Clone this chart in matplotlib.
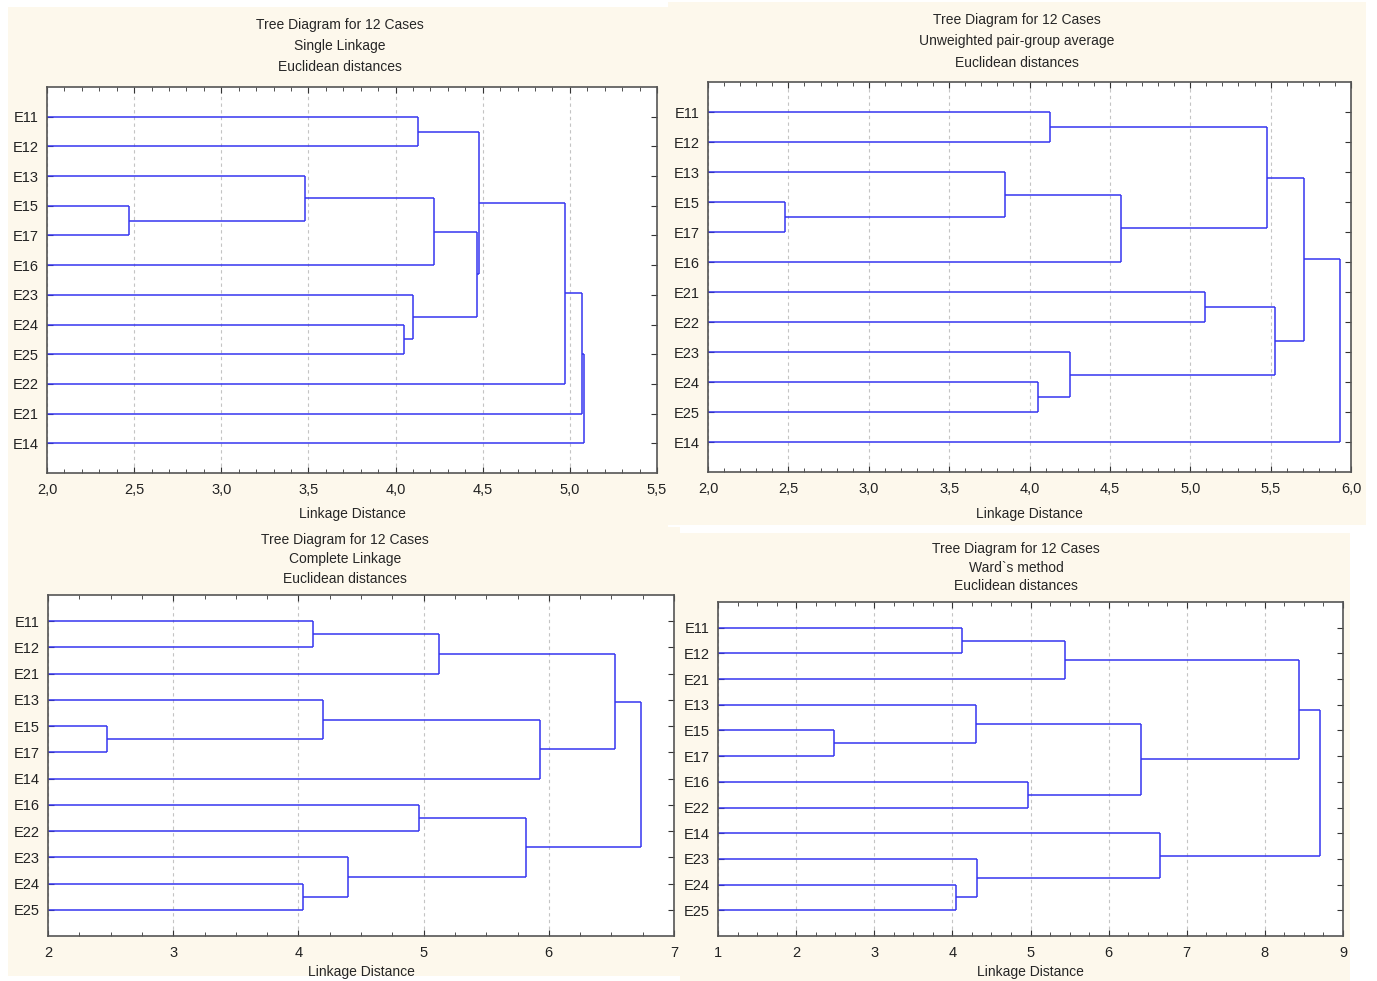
import matplotlib
matplotlib.use('Agg')
import matplotlib.pyplot as plt
import matplotlib.patches as mpatches
from matplotlib.ticker import MultipleLocator, FuncFormatter

plt.rcParams['font.family'] = ['Liberation Sans', 'DejaVu Sans']

W, H = 1377, 981

# leaf order (top to bottom) and joins (child, child, linkage distance)
# 'mK' is the cluster made by join number K
single_leaves = ['E11', 'E12', 'E13', 'E15', 'E17', 'E16', 'E23', 'E24', 'E25', 'E22', 'E21', 'E14']
single_joins = [
    ('E15', 'E17', 2.47),
    ('E13', 'm0', 3.48),
    ('m1', 'E16', 4.22),
    ('E24', 'E25', 4.05),
    ('E23', 'm3', 4.10),
    ('m2', 'm4', 4.466),
    ('E11', 'E12', 4.13),
    ('m6', 'm5', 4.478),
    ('m7', 'E22', 4.97),
    ('m8', 'E21', 5.07),
    ('m9', 'E14', 5.08),
]

upgma_leaves = ['E11', 'E12', 'E13', 'E15', 'E17', 'E16', 'E21', 'E22', 'E23', 'E24', 'E25', 'E14']
upgma_joins = [
    ('E15', 'E17', 2.48),
    ('E13', 'm0', 3.85),
    ('m1', 'E16', 4.57),
    ('E11', 'E12', 4.13),
    ('m3', 'm2', 5.48),
    ('E21', 'E22', 5.09),
    ('E24', 'E25', 4.05),
    ('E23', 'm6', 4.25),
    ('m5', 'm7', 5.53),
    ('m4', 'm8', 5.71),
    ('m9', 'E14', 5.93),
]

complete_leaves = ['E11', 'E12', 'E21', 'E13', 'E15', 'E17', 'E14', 'E16', 'E22', 'E23', 'E24', 'E25']
complete_joins = [
    ('E11', 'E12', 4.12),
    ('m0', 'E21', 5.12),
    ('E15', 'E17', 2.47),
    ('E13', 'm2', 4.20),
    ('m3', 'E14', 5.93),
    ('m1', 'm4', 6.53),
    ('E16', 'E22', 4.96),
    ('E24', 'E25', 4.04),
    ('E23', 'm7', 4.40),
    ('m6', 'm8', 5.82),
    ('m5', 'm9', 6.74),
]

ward_leaves = ['E11', 'E12', 'E21', 'E13', 'E15', 'E17', 'E16', 'E22', 'E14', 'E23', 'E24', 'E25']
ward_joins = [
    ('E11', 'E12', 4.12),
    ('m0', 'E21', 5.44),
    ('E15', 'E17', 2.48),
    ('E13', 'm2', 4.30),
    ('E16', 'E22', 4.97),
    ('m3', 'm4', 6.42),
    ('m1', 'm5', 8.44),
    ('E24', 'E25', 4.05),
    ('E23', 'm7', 4.32),
    ('E14', 'm8', 6.66),
    ('m6', 'm9', 8.71),
]

panels = [
    dict(leaves=single_leaves, joins=single_joins, method='Single Linkage',
         box=(47, 87, 657, 473), xlim=(2.0, 5.5), major=0.5, minor=0.1, dec=True,
         title_xy=(340, 25), title_dy=21, xlab_y=514),
    dict(leaves=upgma_leaves, joins=upgma_joins, method='Unweighted pair-group average',
         box=(708, 82, 1351, 472), xlim=(2.0, 6.0), major=0.5, minor=0.1, dec=True,
         title_xy=(1017, 20), title_dy=21.5, xlab_y=514),
    dict(leaves=complete_leaves, joins=complete_joins, method='Complete Linkage',
         box=(48, 595, 674, 936), xlim=(2, 7), major=1, minor=0.25, dec=False,
         title_xy=(345, 540), title_dy=19.5, xlab_y=972),
    dict(leaves=ward_leaves, joins=ward_joins, method='Ward`s method',
         box=(718, 602, 1343, 936), xlim=(1, 9), major=1, minor=0.25, dec=False,
         title_xy=(1016, 549), title_dy=18.5, xlab_y=972),
]

cream = '#fdf8ec'
line_col = '#3535f0'


def fx(x):
    return x / W


def fy(y):
    return 1 - y / H


fig = plt.figure(figsize=(W / 100, H / 100), dpi=100)
fig.patch.set_facecolor('white')

# cream panel backgrounds (pixel boxes: x0, y0, x1, y1)
for x0, y0, x1, y1 in [(8, 7, 668, 527), (668, 2, 1366, 525), (8, 527, 680, 976), (680, 533, 1350, 981)]:
    fig.patches.append(mpatches.Rectangle((fx(x0), fy(y1)), fx(x1 - x0), (y1 - y0) / H,
                                          transform=fig.transFigure, facecolor=cream,
                                          edgecolor='none', zorder=-10))


def draw_tree(ax, leaves, joins, x0):
    ypos = {name: i + 1 for i, name in enumerate(leaves)}
    xpos = {name: x0 for name in leaves}
    for k, (a, b, d) in enumerate(joins):
        ya, yb = ypos[a], ypos[b]
        ax.plot([xpos[a], d], [ya, ya], color=line_col, lw=1.1, solid_capstyle='butt')
        ax.plot([xpos[b], d], [yb, yb], color=line_col, lw=1.1, solid_capstyle='butt')
        ax.plot([d, d], [ya, yb], color=line_col, lw=1.1, solid_capstyle='butt')
        ypos['m%d' % k] = (ya + yb) / 2
        xpos['m%d' % k] = d


for p in panels:
    l, t, r, b = p['box']
    ax = fig.add_axes([fx(l), fy(b), (r - l) / W, (b - t) / H])
    ax.set_facecolor('white')
    draw_tree(ax, p['leaves'], p['joins'], p['xlim'][0])
    n = len(p['leaves'])
    ax.set_xlim(*p['xlim'])
    ax.set_ylim(n + 1, 0)
    ax.set_yticks(range(1, n + 1))
    ax.set_yticklabels(p['leaves'])
    ax.xaxis.set_major_locator(MultipleLocator(p['major']))
    ax.xaxis.set_minor_locator(MultipleLocator(p['minor']))
    if p['dec']:
        ax.xaxis.set_major_formatter(FuncFormatter(lambda v, pos: ('%.1f' % v).replace('.', ',')))
    else:
        ax.xaxis.set_major_formatter(FuncFormatter(lambda v, pos: '%d' % round(v)))
    ax.tick_params(axis='both', which='both', direction='in', top=True, right=True,
                   colors='#333333', labelcolor='#222222', labelsize=10.5)
    ax.tick_params(axis='x', which='major', length=4, pad=7)
    ax.tick_params(axis='x', which='minor', length=3)
    ax.tick_params(axis='y', which='major', length=4, pad=6)
    ax.grid(axis='x', which='major', linestyle=(0, (3, 3)), color='#c4c4c4', lw=0.8)
    ax.set_axisbelow(True)
    for s in ax.spines.values():
        s.set_color('#555555')
        s.set_linewidth(1.2)

    tx, ty = p['title_xy']
    for i, line in enumerate(['Tree Diagram for 12 Cases', p['method'], 'Euclidean distances']):
        fig.text(fx(tx), fy(ty + i * p['title_dy']), line, ha='center', va='center',
                 fontsize=10, color='#262626')
    fig.text(fx((l + r) / 2), fy(p['xlab_y']), 'Linkage Distance', ha='center', va='center',
             fontsize=10, color='#262626')

fig.savefig('out.png', dpi=100, facecolor=fig.get_facecolor())
